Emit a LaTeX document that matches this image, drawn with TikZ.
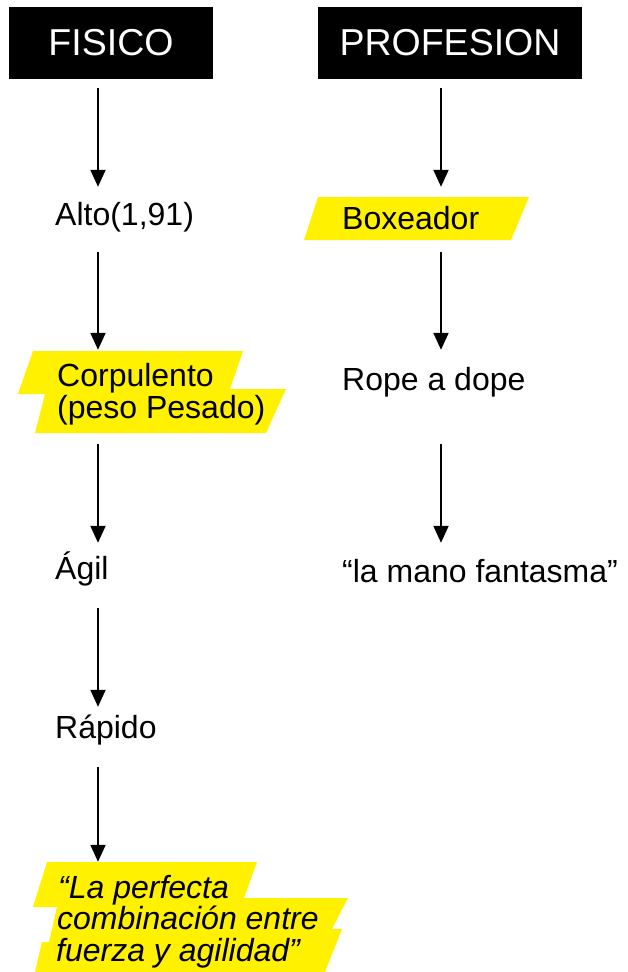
\documentclass[tikz,border=0pt]{standalone}
\usepackage{fontspec}
\setmainfont{Liberation Sans}
\usetikzlibrary{arrows.meta}
\definecolor{hl}{RGB}{255,241,0}
\begin{document}
\begin{tikzpicture}[x=1pt,y=-1pt,
  header/.style={fill=black,text=white,minimum height=72pt,inner sep=0pt,font=\fontsize{37.5}{40}\selectfont},
  lbl/.style={anchor=base west,inner sep=0pt,text height=23pt,text depth=7pt,font=\fontsize{32}{34}\selectfont},
  qlbl/.style={lbl,font=\fontsize{32}{34}\selectfont\itshape},
  arr/.style={line width=2pt,-{Triangle[length=17pt,width=15pt]}},
  hlbox/.style={fill=hl}]
\useasboundingbox (0,0) rectangle (627,972);
% column guides
\coordinate (cL) at (98,0);
\coordinate (cR) at (441,0);
% highlight shapes
\fill[hlbox] (33,351) -- (243,351) -- (230,389) -- (286,389) -- (266,433) -- (35,433) -- (45,394) -- (18,394) -- cycle;
\fill[hlbox] (318,197) -- (529,197) -- (511,240) -- (304,240) -- cycle;
\fill[hlbox] (47,862) -- (257,862) -- (244,898) -- (348,898) -- (332,929) -- (342,929) -- (325,972) -- (35,972) -- (42,942) -- (49,942) -- (57,907) -- (33,907) -- cycle;
% headers
\node[header,minimum width=204pt] (fisico) at (111,43) {FISICO};
\node[header,minimum width=264pt] (profesion) at (450,43) {PROFESION};
% left column
\node[lbl] (alto) at (55,225) {Alto(1,91)};
\node[lbl] (corpA) at (57,386) {Corpulento};
\node[lbl] (corpB) at (57,418) {(peso Pesado)};
\node[lbl] (agil) at (55,579) {Ágil};
\node[lbl] (rapido) at (55,738) {Rápido};
\node[qlbl] (quoteA) at (58,898) {“La perfecta};
\node[qlbl] (quoteB) at (57,929) {combinación entre};
\node[qlbl] (quoteC) at (56,961) {fuerza y agilidad”};
% right column
\node[lbl] (boxeador) at (342,229) {Boxeador};
\node[lbl] (rope) at (342,390) {Rope a dope};
\node[lbl] (mano) at (342,582) {“la mano fantasma”};
% arrows
\draw[arr,shorten <=9pt,shorten >=15pt] (fisico.south -| cL) -- (alto.north -| cL);
\draw[arr,shorten <=20pt,shorten >=13pt] (alto.south -| cL) -- (corpA.north -| cL);
\draw[arr,shorten <=19pt,shorten >=13pt] (corpB.south -| cL) -- (agil.north -| cL);
\draw[arr,shorten <=22pt,shorten >=8pt] (agil.south -| cL) -- (rapido.north -| cL);
\draw[arr,shorten <=22pt,shorten >=13pt] (rapido.south -| cL) -- (quoteA.north -| cL);
\draw[arr,shorten <=9pt,shorten >=19pt] (profesion.south -| cR) -- (boxeador.north -| cR);
\draw[arr,shorten <=16pt,shorten >=17pt] (boxeador.south -| cR) -- (rope.north -| cR);
\draw[arr,shorten <=47pt,shorten >=16pt] (rope.south -| cR) -- (mano.north -| cR);
\end{tikzpicture}
\end{document}
